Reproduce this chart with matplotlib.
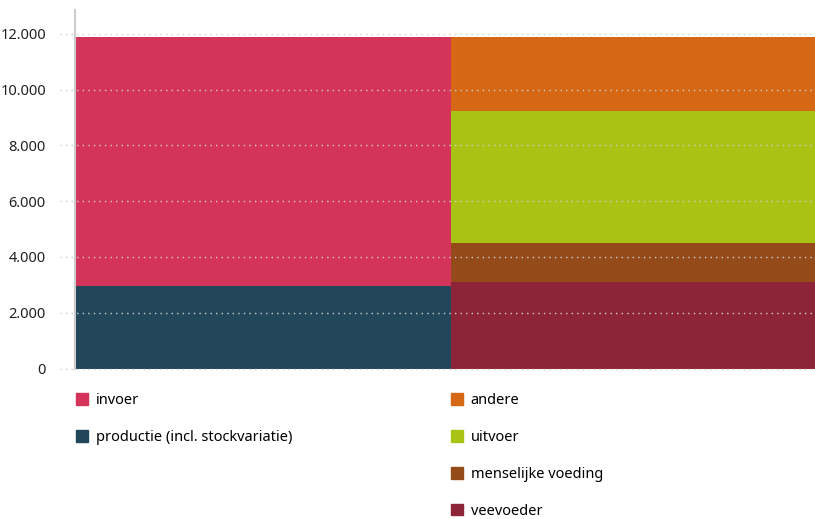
import matplotlib.pyplot as plt
from matplotlib.patches import Patch

plt.rcParams['font.family'] = ['Noto Sans', 'DejaVu Sans']

# herkomst (linker balk)
left_labels = ['productie (incl. stockvariatie)', 'invoer']
left_values = [2960, 8930]
left_colors = ['#22475b', '#d5345a']

# bestemming (rechter balk)
right_labels = ['veevoeder', 'menselijke voeding', 'uitvoer', 'andere']
right_values = [3100, 1400, 4730, 2660]
right_colors = ['#8e2437', '#944a19', '#a9c315', '#d56715']

yticks = [0, 2000, 4000, 6000, 8000, 10000, 12000]
ytick_labels = ['0', '2.000', '4.000', '6.000', '8.000', '10.000', '12.000']

fig = plt.figure(figsize=(8.15, 5.19), dpi=100)
ax = fig.add_axes([75/815, (519-368.5)/519, 740/815, (368.5-10)/519])

bottom = 0
for v, c in zip(left_values, left_colors):
    ax.bar(0, v, width=1, bottom=bottom, color=c, align='edge', zorder=2)
    bottom += v
bottom = 0
for v, c in zip(right_values, right_colors):
    ax.bar(1, v, width=1, bottom=bottom, color=c, align='edge', zorder=2)
    bottom += v

ax.set_xlim(0, 740/376)
ax.set_ylim(0, 12850)
ax.set_yticks(yticks)
ax.set_yticklabels(ytick_labels, fontsize=10.5, color='#222222')
ax.tick_params(axis='y', length=0, pad=21)
ax.set_xticks([])

for t in yticks:
    ax.axhline(t, xmin=-0.02, xmax=1, color='#cfcfcf', linestyle=(0, (1, 3)),
               linewidth=1, zorder=3, clip_on=False)

for s in ['top', 'right', 'bottom']:
    ax.spines[s].set_visible(False)
ax.spines['left'].set_color('#cccccc')
ax.spines['left'].set_linewidth(1.5)

leg_kw = dict(frameon=False, fontsize=10.5, handlelength=0.85, handleheight=0.85,
              handletextpad=0.5, labelspacing=1.5, borderpad=0, borderaxespad=0)
h1 = [Patch(color=c) for c in left_colors[::-1]]
fig.legend(h1, left_labels[::-1], loc='upper left',
           bbox_to_anchor=(76/815, 1 - 393/519), **leg_kw)
h2 = [Patch(color=c) for c in right_colors[::-1]]
fig.legend(h2, right_labels[::-1], loc='upper left',
           bbox_to_anchor=(451/815, 1 - 393/519), **leg_kw)

fig.savefig('out.png', dpi=100)
